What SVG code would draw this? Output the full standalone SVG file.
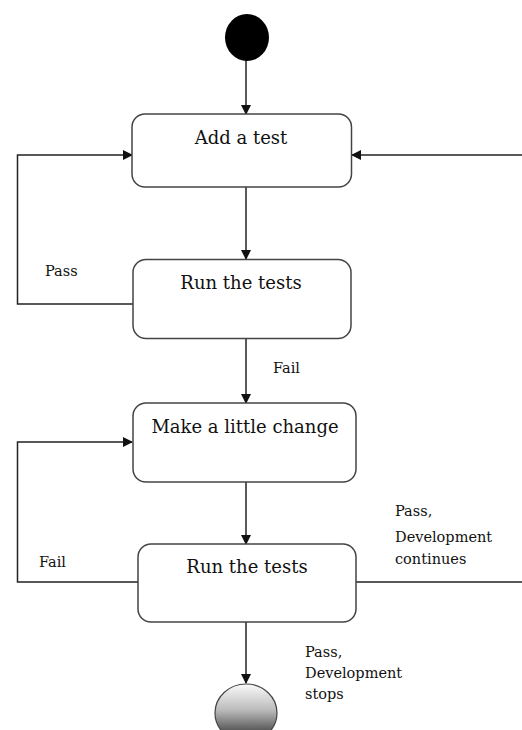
<svg xmlns="http://www.w3.org/2000/svg" width="522" height="730" viewBox="0 0 522 730">
<style>
.box{fill:#fff;stroke:#444;stroke-width:1.5}
.t{font-family:"DejaVu Serif","Liberation Serif",serif;font-size:18px;fill:#111;text-anchor:middle}
.l{font-family:"DejaVu Serif","Liberation Serif",serif;font-size:14.5px;fill:#111}
.c{fill:none;stroke:#222;stroke-width:1.5}
</style>
<defs>
<marker id="ah" markerWidth="10" markerHeight="10" refX="9" refY="5" orient="auto" markerUnits="userSpaceOnUse">
<path d="M0,0 L10,5 L0,10 Z" fill="#111"/>
</marker>
<linearGradient id="g" x1="0" y1="0" x2="0" y2="1">
<stop offset="0" stop-color="#fafafa"/>
<stop offset="0.45" stop-color="#bbb"/>
<stop offset="1" stop-color="#222"/>
</linearGradient>
</defs>
<g id="connectors">
<path class="c" d="M246,60 V114" marker-end="url(#ah)"/>
<path class="c" d="M246,187 V259" marker-end="url(#ah)"/>
<path class="c" d="M133,304 H17.5 V155 H132" marker-end="url(#ah)"/>
<path class="c" d="M522,155 H352" marker-end="url(#ah)"/>
<path class="c" d="M246,339 V403" marker-end="url(#ah)"/>
<path class="c" d="M246,482 V544" marker-end="url(#ah)"/>
<path class="c" d="M138,582 H17.5 V442 H132" marker-end="url(#ah)"/>
<path class="c" d="M356,582 H522"/>
<path class="c" d="M246,622 V683" marker-end="url(#ah)"/>
</g>
<g id="start"><ellipse cx="247" cy="37.5" rx="22" ry="23.5" fill="#000"/></g>
<g id="add"><rect class="box" x="132" y="114" width="219.5" height="73" rx="13"/><text class="t" x="241" y="144">Add a test</text></g>
<g id="run1"><rect class="box" x="133" y="259.5" width="218" height="79" rx="13"/><text class="t" x="241" y="289">Run the tests</text></g>
<g id="change"><rect class="box" x="133" y="403" width="223" height="79" rx="13"/><text class="t" x="245" y="433">Make a little change</text></g>
<g id="run2"><rect class="box" x="138" y="544" width="218" height="78" rx="13"/><text class="t" x="247" y="573">Run the tests</text></g>
<g id="end"><ellipse cx="246" cy="713" rx="31" ry="29" fill="url(#g)" stroke="#444" stroke-width="1.2"/></g>
<g id="labels">
<text class="l" x="45" y="276">Pass</text>
<text class="l" x="273" y="373">Fail</text>
<text class="l" x="39" y="567">Fail</text>
<text class="l" x="395" y="516">Pass,</text>
<text class="l" x="395" y="542">Development</text>
<text class="l" x="395" y="564">continues</text>
<text class="l" x="305" y="657">Pass,</text>
<text class="l" x="305" y="678">Development</text>
<text class="l" x="305" y="699">stops</text>
</g>
</svg>
